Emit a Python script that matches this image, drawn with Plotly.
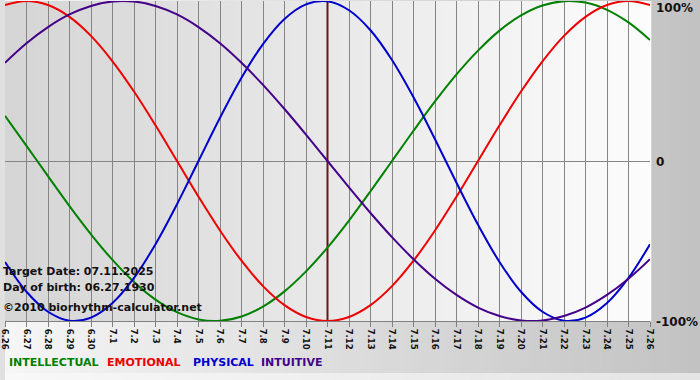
import plotly.graph_objects as go

# ---------------- data ----------------
day_labels = ["6.26", "6.27", "6.28", "6.29", "6.30",
              "7.1", "7.2", "7.3", "7.4", "7.5", "7.6", "7.7", "7.8", "7.9", "7.10",
              "7.11", "7.12", "7.13", "7.14", "7.15", "7.16", "7.17", "7.18", "7.19",
              "7.20", "7.21", "7.22", "7.23", "7.24", "7.25", "7.26"]

physical = [-63.1, -81.7, -94.2, -99.8, -97.9, -88.8, -73.1, -52.0, -27.0, 0.0,
            27.0, 52.0, 73.1, 88.8, 97.9, 99.8, 94.2, 81.7, 63.1, 39.8,
            13.6, -13.6, -39.8, -63.1, -81.7, -94.2, -99.8, -97.9, -88.8, -73.1, -52.0]

emotional = [97.5, 100.0, 97.5, 90.1, 78.2, 62.3, 43.4, 22.3, 0.0, -22.3,
             -43.4, -62.3, -78.2, -90.1, -97.5, -100.0, -97.5, -90.1, -78.2, -62.3,
             -43.4, -22.3, 0.0, 22.3, 43.4, 62.3, 78.2, 90.1, 97.5, 100.0, 97.5]

intellectual = [28.2, 9.5, -9.5, -28.2, -45.8, -61.8, -75.6, -86.6, -94.5, -99.0,
                -99.9, -97.2, -91.0, -81.5, -69.0, -54.1, -37.2, -18.9, 0.0, 18.9,
                37.2, 54.1, 69.0, 81.5, 91.0, 97.2, 99.9, 99.0, 94.5, 86.6, 75.6]

intuitive = [61.4, 73.6, 83.7, 91.6, 96.9, 99.7, 99.7, 96.9, 91.6, 83.7,
             73.6, 61.4, 47.6, 32.5, 16.5, 0.0, -16.5, -32.5, -47.6, -61.4,
             -73.6, -83.7, -91.6, -96.9, -99.7, -99.7, -96.9, -91.6, -83.7, -73.6, -61.4]

target_label = "7.11"
y_limits = [-100, 100]
y_tick_labels = ["100%", "0", "-100%"]
info_lines = ["Target Date: 07.11.2025", "Day of birth: 06.27.1930",
              "\u00a92010 biorhythm-calculator.net"]
legend_names = ["INTELLECTUAL", "EMOTIONAL", "PHYSICAL", "INTUITIVE"]

# ---------------- style ----------------
W, H = 700, 380
ML, MR, MT, MB = 0, 50, 1, 59
PW, PH = W - ML - MR, H - MT - MB

C_INT = "#008000"
C_EMO = "#ee0000"
C_PHY = "#0000cc"
C_INU = "#440088"
C_MARK = "#6a1414"
FONT = "DejaVu Sans"


def px_x(px):
    return (px - ML) / PW


def px_y(py):
    return (MT + PH - py) / PH


def gray(v):
    v = int(round(v))
    return f"rgb({v},{v},{v})"


shapes = []
# paper background gradient (light left -> gray right)
n = 70
for i in range(n):
    x0 = W * i / n
    x1 = W * (i + 1) / n + 0.5
    g = 246 + (194 - 246) * (i + 0.5) / n
    shapes.append(dict(type="rect", xref="paper", yref="paper",
                       x0=px_x(x0), x1=px_x(x1), y0=px_y(H), y1=px_y(0),
                       fillcolor=gray(g), line=dict(width=0), layer="below"))
# bottom light strip
for i in range(n):
    x0 = W * i / n
    x1 = W * (i + 1) / n + 0.5
    g = 248 + (228 - 248) * (i + 0.5) / n
    shapes.append(dict(type="rect", xref="paper", yref="paper",
                       x0=px_x(x0), x1=px_x(x1), y0=px_y(H), y1=px_y(373),
                       fillcolor=gray(g), line=dict(width=0), layer="below"))
# plot area gradient (darker left -> near white right)
m = 65
for i in range(m):
    g = 213 + (252 - 213) * (i + 0.5) / m
    shapes.append(dict(type="rect", xref="paper", yref="paper",
                       x0=i / m, x1=(i + 1) / m + 0.002, y0=0, y1=1,
                       fillcolor=gray(g), line=dict(width=0), layer="below"))

fig = go.Figure()
# target-date marker line (drawn first, under the curves)
fig.add_trace(go.Scatter(x=[target_label, target_label], y=y_limits, mode="lines",
                         line=dict(color=C_MARK, width=2), hoverinfo="skip",
                         showlegend=False))
for vals, col, name in [(intellectual, C_INT, "INTELLECTUAL"),
                        (emotional, C_EMO, "EMOTIONAL"),
                        (physical, C_PHY, "PHYSICAL"),
                        (intuitive, C_INU, "INTUITIVE")]:
    fig.add_trace(go.Scatter(x=day_labels, y=vals, mode="lines", name=name,
                             line=dict(color=col, width=2, shape="spline", smoothing=1),
                             hoverinfo="skip", showlegend=False))

annotations = []
# right-side y labels
for txt, py, anchor in [(y_tick_labels[0], 1, "top"),
                        (y_tick_labels[1], 162, "middle"),
                        (y_tick_labels[2], 322, "middle")]:
    annotations.append(dict(text=txt, xref="paper", yref="paper",
                            x=px_x(656), y=px_y(py), xanchor="left", yanchor=anchor,
                            showarrow=False, borderpad=0, borderwidth=0,
                            font=dict(family=FONT, size=12, color="#111111", weight="bold")))
# info text
for txt, py in zip(info_lines, [271.5, 287, 307]):
    annotations.append(dict(text=txt, xref="paper", yref="paper",
                            x=px_x(-2), y=px_y(py), xanchor="left", yanchor="middle",
                            showarrow=False, borderpad=0, borderwidth=0,
                            font=dict(family=FONT, size=11, color="#111111", weight="bold")))
# legend text
for txt, col, pxs in zip(legend_names, [C_INT, C_EMO, C_PHY, C_INU], [4, 103, 189, 258]):
    annotations.append(dict(text=txt, xref="paper", yref="paper",
                            x=px_x(pxs), y=px_y(362), xanchor="left", yanchor="middle",
                            showarrow=False, borderpad=0, borderwidth=0,
                            font=dict(family=FONT, size=11, color=col, weight="bold")))

fig.update_layout(
    width=W, height=H,
    margin=dict(l=ML, r=MR, t=MT, b=MB, pad=0),
    paper_bgcolor="#e0e0e0",
    plot_bgcolor="rgba(0,0,0,0)",
    shapes=shapes,
    annotations=annotations,
    showlegend=False,
    xaxis=dict(type="category", categoryorder="array", categoryarray=day_labels,
               range=[0, len(day_labels) - 1],
               tickmode="array", tickvals=day_labels, ticktext=day_labels,
               tickangle=90, ticks="outside", ticklen=5, tickcolor="#808080",
               showgrid=True, gridcolor="#858585", gridwidth=1,
               showline=True, linecolor="#808080", linewidth=1,
               zeroline=False, fixedrange=True,
               tickfont=dict(family=FONT, size=8.5, color="#111111", weight="bold")),
    yaxis=dict(range=y_limits, showticklabels=False, ticks="",
               tickmode="array", tickvals=[0], showgrid=True, gridcolor="#858585",
               gridwidth=1, zeroline=False, showline=False, fixedrange=True),
)

fig.write_html("out.html", config={"displayModeBar": False})
